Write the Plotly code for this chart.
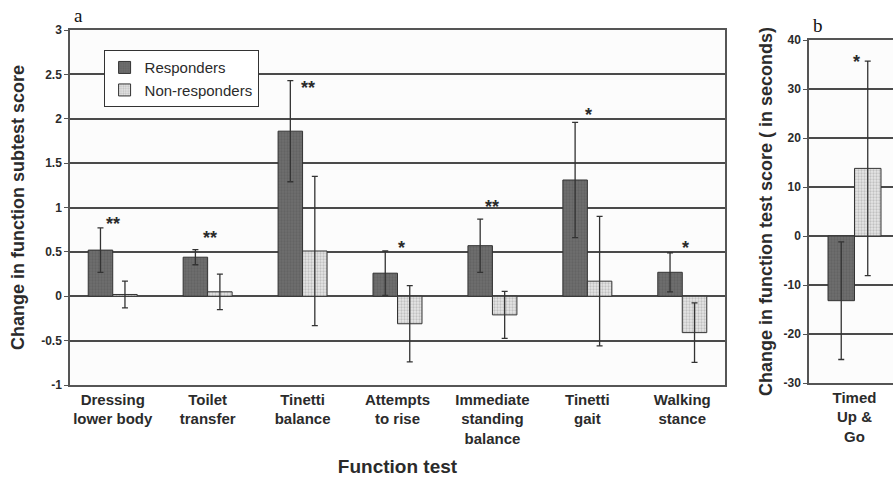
import plotly.graph_objects as go

# ---------------- data ----------------
categories_a = ["Dressing<br>lower body", "Toilet<br>transfer", "Tinetti<br>balance",
                "Attempts<br>to rise", "Immediate<br>standing<br>balance", "Tinetti<br>gait",
                "Walking<br>stance"]
resp_a = [0.52, 0.44, 1.86, 0.26, 0.57, 1.31, 0.27]
resp_a_err = [0.25, 0.085, 0.57, 0.25, 0.30, 0.65, 0.22]
nonresp_a = [0.02, 0.05, 0.51, -0.31, -0.21, 0.17, -0.41]
nonresp_a_err = [0.15, 0.20, 0.84, 0.43, 0.265, 0.73, 0.335]
sig_a = ["**", "**", "**", "*", "**", "*", "*"]
sig_a_y = [0.87, 0.71, 2.40, 0.60, 1.06, 2.10, 0.60]
sig_a_dx = [0.0, 0.03, 0.06, 0.04, 0.0, 0.01, 0.03]

categories_b = ["Timed<br>Up &<br>Go"]
resp_b = [-13.2]
resp_b_err = [12.0]
nonresp_b = [13.8]
nonresp_b_err = [21.9]
sig_b = ["*"]
sig_b_y = [36.5]

yticks_a = [-1, -0.5, 0, 0.5, 1, 1.5, 2, 2.5, 3]
yticks_b = [-30, -20, -10, 0, 10, 20, 30, 40]

# ---------------- styles ----------------
W, H = 893, 478
RESP_BG, RESP_FG = "#6e6e6e", "#585858"
NON_BG, NON_FG = "#e6e6e6", "#9a9a9a"
GRID = "#4a4a4a"
AX = "#555555"
TXT = "#2b2b2b"
FONT = "Liberation Sans, Arial, sans-serif"

def bar(x, y, err, name, bg, fg, xa, ya, show):
    return go.Bar(
        x=x, y=y, name=name, xaxis=xa, yaxis=ya, showlegend=show,
        marker=dict(color=bg, line=dict(color="#333333", width=1),
                    pattern=dict(shape=".", bgcolor=bg, fgcolor=fg, size=3, solidity=0.45)),
        error_y=dict(type="data", array=err, visible=True, color="#333333",
                     thickness=1.3, width=3),
    )

fig = go.Figure()
fig.add_trace(bar(categories_a, resp_a, resp_a_err, "Responders", RESP_BG, RESP_FG, "x", "y", True))
fig.add_trace(bar(categories_a, nonresp_a, nonresp_a_err, "Non-responders", NON_BG, NON_FG, "x", "y", True))
fig.add_trace(bar(categories_b, resp_b, resp_b_err, "Responders", RESP_BG, RESP_FG, "x2", "y2", False))
fig.add_trace(bar(categories_b, nonresp_b, nonresp_b_err, "Non-responders", NON_BG, NON_FG, "x2", "y2", False))

tickfont = dict(family=FONT, size=12, color=TXT, weight="bold")
catfont = dict(family=FONT, size=15, color=TXT, weight="bold")
titlefont = dict(family=FONT, size=18, color=TXT, weight="bold")

fig.update_layout(
    width=W, height=H,
    margin=dict(l=0, r=0, t=0, b=0, autoexpand=False),
    paper_bgcolor="white", plot_bgcolor="#fcfcfc",
    barmode="group", bargap=0.484, bargroupgap=0,
    font=dict(family=FONT, color=TXT),
    legend=dict(x=0.116, y=0.895, xanchor="left", yanchor="top",
                bgcolor="white", bordercolor="#333333", borderwidth=1,
                font=dict(family=FONT, size=15, color=TXT),
                tracegroupgap=0, itemwidth=30),
    xaxis=dict(domain=[70 / W, 725 / W], range=[-0.45, 6.45], anchor="y", automargin=False,
               showline=True, linecolor=AX, linewidth=1.5, mirror=True,
               showgrid=False, ticks="", tickfont=catfont,
               title=dict(text="Function test", font=dict(family=FONT, size=19, color=TXT, weight="bold"),
                          standoff=14)),
    yaxis=dict(domain=[1 - 385 / H, 1 - 30 / H], range=[-1, 3], anchor="x", automargin=False,
               tickvals=yticks_a, ticktext=[f"{v:g}" for v in yticks_a],
               showline=True, linecolor=AX, linewidth=1.5, mirror=True,
               showgrid=True, gridcolor=GRID, gridwidth=1.5,
               zeroline=True, zerolinecolor=GRID, zerolinewidth=1.5,
               ticks="outside", ticklen=4, tickcolor=AX, tickfont=tickfont,
               title=dict(text="Change in function subtest score", font=titlefont, standoff=12)),
    xaxis2=dict(domain=[809 / W, 1.0], range=[-0.443, 0.375], anchor="y2", automargin=False,
                showline=True, linecolor=AX, linewidth=1.5, mirror=True,
                showgrid=False, ticks="", tickfont=catfont),
    yaxis2=dict(domain=[1 - 383 / H, 1 - 40 / H], range=[-30, 40], anchor="x2", automargin=False,
                tickvals=yticks_b, ticktext=[str(v) for v in yticks_b],
                showline=True, linecolor=AX, linewidth=1.5,
                showgrid=True, gridcolor=GRID, gridwidth=1.5,
                zeroline=True, zerolinecolor=GRID, zerolinewidth=1.5,
                ticks="outside", ticklen=4, tickcolor=AX, tickfont=tickfont,
                title=dict(text="Change in function test score ( in seconds)", font=titlefont, standoff=6)),
)

ann = []
for i, (s, yv, dx) in enumerate(zip(sig_a, sig_a_y, sig_a_dx)):
    ann.append(dict(x=i + dx, y=yv, xref="x", yref="y", text=s, showarrow=False,
                    font=dict(family=FONT, size=18, color=TXT, weight="bold"), yshift=-5))
for i, (s, yv) in enumerate(zip(sig_b, sig_b_y)):
    ann.append(dict(x=i + 0.02, y=yv, xref="x2", yref="y2", text=s, showarrow=False,
                    font=dict(family=FONT, size=18, color=TXT, weight="bold"), yshift=-5))
ann.append(dict(x=78 / W, y=1 - 15 / H, xref="paper", yref="paper", text="a", showarrow=False,
                xanchor="center", yanchor="middle",
                font=dict(family="Liberation Serif, Times New Roman, serif", size=19, color="#111")))
ann.append(dict(x=818 / W, y=1 - 25 / H, xref="paper", yref="paper", text="b", showarrow=False,
                xanchor="center", yanchor="middle",
                font=dict(family="Liberation Serif, Times New Roman, serif", size=19, color="#111")))
fig.update_layout(annotations=ann)

fig.write_html("out.html", config={"displayModeBar": False},
               post_script="document.body.style.margin='0';document.body.style.overflow='hidden';")
